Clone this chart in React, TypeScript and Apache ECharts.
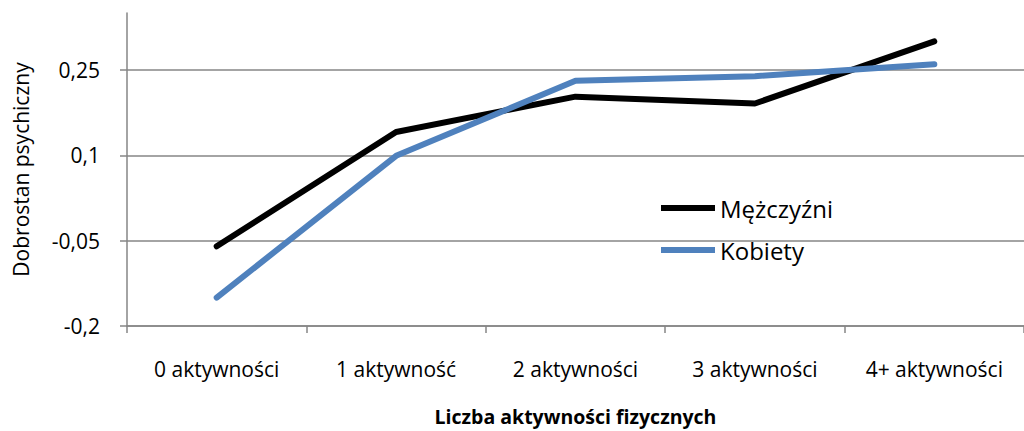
import React, { useEffect, useRef } from "react";
import * as echarts from "echarts";

const categories = ["0 aktywności", "1 aktywność", "2 aktywności", "3 aktywności", "4+ aktywności"];
const men = [-0.06, 0.141, 0.203, 0.191, 0.3];
const women = [-0.15, 0.099, 0.231, 0.239, 0.26];
const seriesNames = ["Mężczyźni", "Kobiety"];
const yTitle = "Dobrostan psychiczny";
const xTitle = "Liczba aktywności fizycznych";

const FONT = "Open Sans";

export default function App() {
  const ref = useRef<HTMLDivElement>(null);
  useEffect(() => {
    const chart = echarts.init(ref.current!, null, { renderer: "svg" });
    chart.setOption({
      animation: false,
      backgroundColor: "#ffffff",
      grid: { left: 127, top: 13, bottom: 100, right: -10 },
      legend: {
        orient: "vertical",
        left: 661,
        top: 194,
        padding: 0,
        itemWidth: 54,
        itemHeight: 6,
        itemGap: 14,
        icon: "rect",
        data: [
          { name: seriesNames[0], itemStyle: { color: "#000000" } },
          { name: seriesNames[1], itemStyle: { color: "#4F81BD" } },
        ],
        textStyle: { fontFamily: FONT, fontSize: 24, lineHeight: 28, color: "#000" },
      },
      xAxis: {
        type: "category",
        data: categories,
        boundaryGap: true,
        name: xTitle,
        nameLocation: "middle",
        nameGap: 80,
        nameTextStyle: { fontFamily: FONT, fontSize: 19.5, fontWeight: "bold", color: "#000" },
        axisLine: { onZero: false, lineStyle: { color: "#868686", width: 1.5 } },
        axisTick: { show: true, length: 7, lineStyle: { color: "#868686", width: 1.5 } },
        axisLabel: { fontFamily: FONT, fontSize: 21, color: "#000", margin: 32 },
      },
      yAxis: {
        type: "value",
        min: -0.2,
        max: 0.35,
        interval: 0.15,
        name: yTitle,
        nameLocation: "middle",
        nameGap: 96,
        nameTextStyle: { fontFamily: FONT, fontSize: 21, color: "#000" },
        axisLine: { show: true, lineStyle: { color: "#868686", width: 1.5 } },
        axisTick: { show: true, length: 7, lineStyle: { color: "#868686", width: 1.5 } },
        axisLabel: {
          fontFamily: FONT,
          fontSize: 21,
          color: "#000",
          margin: 27,
          showMaxLabel: false,
          formatter: (v: number) => (Math.abs(v - 0.35) < 1e-6 ? "" : String(+v.toFixed(2)).replace(".", ",")),
        },
        splitLine: { show: true, showMaxLine: false, lineStyle: { color: "#868686", width: 1.5 } },
      },
      series: [
        {
          name: seriesNames[0],
          type: "line",
          data: men,
          symbol: "none",
          lineStyle: { color: "#000000", width: 6, cap: "round", join: "round" },
          itemStyle: { color: "#000000" },
          z: 3,
        },
        {
          name: seriesNames[1],
          type: "line",
          data: women,
          symbol: "none",
          lineStyle: { color: "#4F81BD", width: 6, cap: "round", join: "round" },
          itemStyle: { color: "#4F81BD" },
          z: 4,
        },
      ],
    });
    return () => chart.dispose();
  }, []);
  return (
    <div
      ref={ref}
      style={{ position: "fixed", left: 0, top: 0, width: 1024, height: 431, background: "#fff" }}
    />
  );
}
